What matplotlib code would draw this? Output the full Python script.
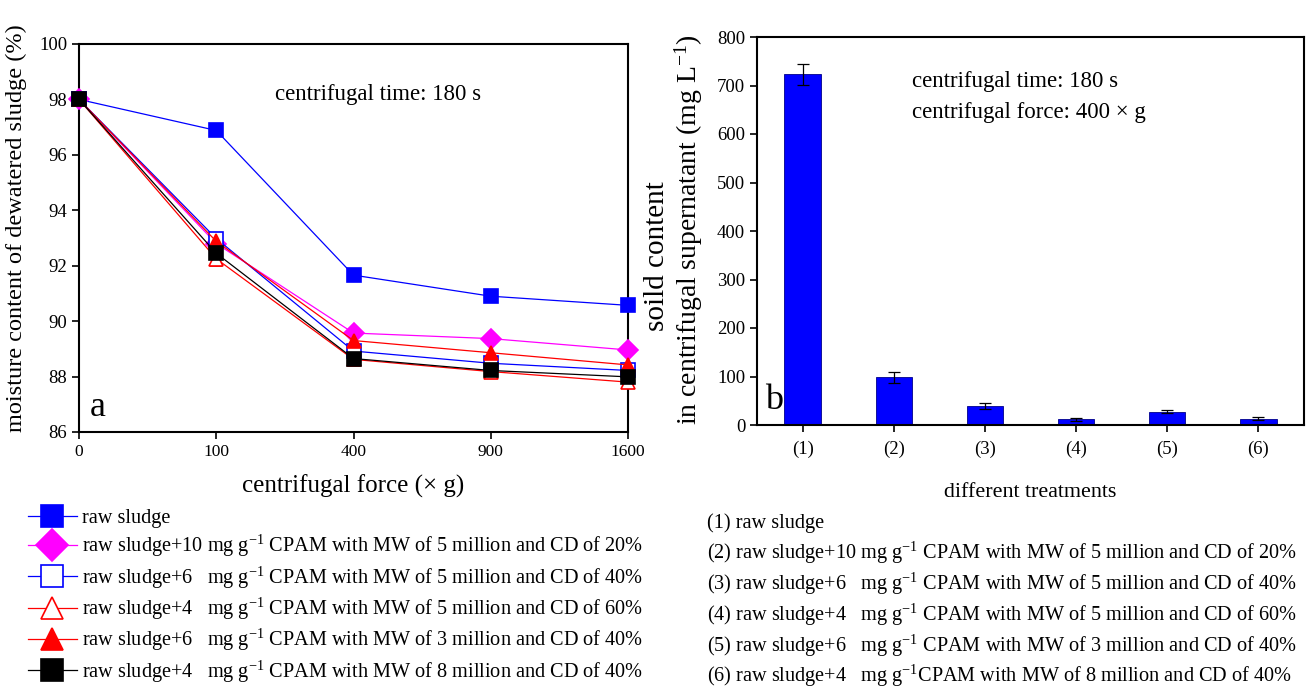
import numpy as np
import matplotlib
matplotlib.use("Agg")
import matplotlib.pyplot as plt
from matplotlib.lines import Line2D

plt.rcParams['font.family'] = ['Liberation Serif', 'DejaVu Serif']
plt.rcParams['mathtext.fontset'] = 'custom'
plt.rcParams['mathtext.rm'] = 'Liberation Serif'
plt.rcParams['mathtext.it'] = 'Liberation Serif:italic'

# ---- data: panel a ----
forces = [0, 100, 400, 900, 1600]
raw = [98.0, 96.88, 91.66, 90.9, 90.57]
cpam10_5m_20 = [98.0, 92.8, 89.57, 89.37, 88.96]
cpam6_5m_40 = [98.0, 92.98, 88.92, 88.48, 88.22]
cpam4_5m_60 = [98.0, 92.25, 88.62, 88.18, 87.8]
cpam6_3m_40 = [98.0, 92.88, 89.3, 88.86, 88.42]
cpam4_8m_40 = [98.0, 92.45, 88.65, 88.22, 87.99]
err_a = [0.0, 0.25, 0.25, 0.2, 0.1]

legend_labels = [
    "raw sludge",
    r"raw sludge+10 mg g$^{\mathrm{-1}}$ CPAM with MW of 5 million and CD of 20%",
    r"raw sludge+6   mg g$^{\mathrm{-1}}$ CPAM with MW of 5 million and CD of 40%",
    r"raw sludge+4   mg g$^{\mathrm{-1}}$ CPAM with MW of 5 million and CD of 60%",
    r"raw sludge+6   mg g$^{\mathrm{-1}}$ CPAM with MW of 3 million and CD of 40%",
    r"raw sludge+4   mg g$^{\mathrm{-1}}$ CPAM with MW of 8 million and CD of 40%",
]

# ---- data: panel b ----
treatments = ["(1)", "(2)", "(3)", "(4)", "(5)", "(6)"]
solids = [723, 98, 40, 12, 27, 13]
solids_err = [22, 11, 6, 3, 3, 2.5]
treatment_labels = [
    "(1) raw sludge",
    r"(2) raw sludge+10 mg g$^{\mathrm{-1}}$ CPAM with MW of 5 million and CD of 20%",
    r"(3) raw sludge+6   mg g$^{\mathrm{-1}}$ CPAM with MW of 5 million and CD of 40%",
    r"(4) raw sludge+4   mg g$^{\mathrm{-1}}$ CPAM with MW of 5 million and CD of 60%",
    r"(5) raw sludge+6   mg g$^{\mathrm{-1}}$ CPAM with MW of 3 million and CD of 40%",
    r"(6) raw sludge+4   mg g$^{\mathrm{-1}}$CPAM with MW of 8 million and CD of 40%",
]

W, H = 1306, 687
fig = plt.figure(figsize=(W / 100, H / 100), dpi=100)

def ax_rect(l, t, r, b):
    return [l / W, 1 - b / H, (r - l) / W, (b - t) / H]

# ---------------- panel a ----------------
ax1 = fig.add_axes(ax_rect(79, 44, 628, 432))
xpos = np.sqrt(forces)
series = [
    (raw, dict(color='#0000ff', marker='s', mfc='#0000ff', mec='#0000ff')),
    (cpam10_5m_20, dict(color='#ff00ff', marker='D', mfc='#ff00ff', mec='#ff00ff')),
    (cpam6_5m_40, dict(color='#0000ff', marker='s', mfc='white', mec='#0000ff')),
    (cpam4_5m_60, dict(color='#ff0000', marker='^', mfc='white', mec='#ff0000')),
    (cpam6_3m_40, dict(color='#ff0000', marker='^', mfc='#ff0000', mec='#ff0000')),
    (cpam4_8m_40, dict(color='black', marker='s', mfc='black', mec='black')),
]
handles = []
for i, (vals, st) in enumerate(series):
    kw = dict(lw=0.9, ms=10, mew=1.2, **st)
    if i == 3:
        ax1.errorbar(xpos, vals, yerr=err_a, ecolor='#ff0000', elinewidth=0.9,
                     capsize=4, capthick=0.9, zorder=2.5, clip_on=False, **kw)
    else:
        ax1.plot(xpos, vals, zorder=3, clip_on=False, **kw)
    handles.append(Line2D([0], [0], **kw))

ax1.set_xlim(0, 40)
ax1.set_ylim(86, 100)
ax1.set_xticks(xpos)
ax1.set_xticklabels([str(f) for f in forces])
ax1.set_yticks(np.arange(86, 101, 2))
ax1.tick_params(direction='out', length=5, width=1.2, labelsize=12.5, top=False, right=False)
ax1.tick_params(axis='y', labelsize=13.5)
for s in ax1.spines.values():
    s.set_linewidth(1.5)
ax1.set_xlabel(u"centrifugal force (\u00d7 g)", fontsize=18, labelpad=11)
ax1.set_ylabel("moisture content of dewatered sludge (%)", fontsize=17.5, labelpad=6)
ax1.yaxis.set_label_coords(-0.095, 0.526)
ax1.text(0.545, 0.87, "centrifugal time: 180 s", transform=ax1.transAxes,
         ha='center', va='center', fontsize=16.5)
ax1.text(0.02, 0.02, "a", transform=ax1.transAxes, ha='left', va='bottom', fontsize=26)

# ---------------- panel b ----------------
ax2 = fig.add_axes(ax_rect(757, 37, 1304, 425))
bx = np.arange(1, len(treatments) + 1)
ax2.bar(bx, solids, width=0.4, color='#0000ff', edgecolor='#00008b', lw=0.6,
        yerr=solids_err, error_kw=dict(ecolor='black', elinewidth=0.9, capsize=4, capthick=0.9))
ax2.set_xlim(0.5, 6.5)
ax2.set_ylim(0, 800)
ax2.set_xticks(bx)
ax2.set_xticklabels(treatments)
ax2.set_yticks(np.arange(0, 801, 100))
ax2.tick_params(direction='out', length=5, width=1.2, labelsize=13.5, top=False, right=False)
ax2.tick_params(axis='x', pad=6)
for s in ax2.spines.values():
    s.set_linewidth(1.5)
ax2.set_xlabel("different treatments", fontsize=15.8, labelpad=18)
fig.text(657 / W, 1 - 256 / H, "soild content", rotation=90, ha='center', va='center',
         fontsize=21)
fig.text(689 / W, 1 - 230 / H, "in centrifugal supernatant (mg L$^{\\mathrm{-1}}$)", rotation=90,
         ha='center', va='center', fontsize=20)
ax2.text(0.283, 0.885, "centrifugal time: 180 s", transform=ax2.transAxes,
         ha='left', va='center', fontsize=16.5)
ax2.text(0.283, 0.805, u"centrifugal force: 400 \u00d7 g", transform=ax2.transAxes,
         ha='left', va='center', fontsize=16.5)
ax2.text(0.015, 0.02, "b", transform=ax2.transAxes, ha='left', va='bottom', fontsize=26)

# ---------------- legends ----------------
fig.legend(handles, legend_labels, loc='upper left', bbox_to_anchor=(28 / W, 1 - 509 / H),
           frameon=False, fontsize=14.6, handlelength=2.4, handletextpad=0.25,
           markerscale=1.6, labelspacing=0.25, borderaxespad=0, borderpad=0)

row_baseline = [528, 559, 590, 621, 652, 682]
for lab, yy in zip(treatment_labels, row_baseline):
    fig.text(707 / W, 1 - yy / H, lab, ha='left', va='baseline', fontsize=14.6)

fig.savefig("out.png", dpi=100)
